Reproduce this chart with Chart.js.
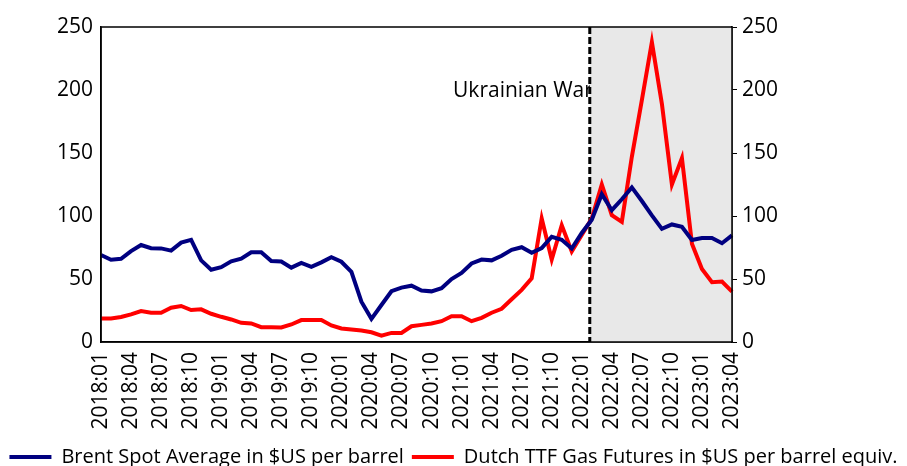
<!DOCTYPE html>
<html lang="en">
<head>
<meta charset="UTF-8">
<script src="https://cdn.jsdelivr.net/npm/chart.js"></script>
<meta name="viewport" content="width=device-width, initial-scale=1.0">
<title>Brent vs Dutch TTF</title>
<style>
html, body { margin: 0; padding: 0; background: #fff; overflow: hidden; }
#wrap { width: 907px; height: 466px; }
</style>
</head>
<body>
<div id="wrap"><canvas id="priceChart" width="907" height="466"></canvas></div>
<script>
// monthly categories 2018:01 .. 2023:04
var months = [];
for (var y = 2018; y <= 2023; y++) {
	for (var m = 1; m <= 12; m++) {
		if (y === 2023 && m > 4) break;
		months.push(y + ':' + (m < 10 ? '0' + m : m));
	}
}

var tickLabels = ['2018:01','2018:04','2018:07','2018:10','2019:01','2019:04','2019:07','2019:10',
	'2020:01','2020:04','2020:07','2020:10','2021:01','2021:04','2021:07','2021:10',
	'2022:01','2022:04','2022:07','2022:10','2023:01','2023:04'];

var brent = [69.1,65.3,66.0,72.1,77.0,74.4,74.3,72.5,78.9,81.0,64.8,57.4,
	59.4,64.0,66.1,71.2,71.3,64.2,63.9,59.0,62.8,59.7,63.2,67.3,
	63.7,55.7,32.0,18.4,29.4,40.3,43.2,44.7,40.9,40.2,42.7,50.0,
	54.8,62.3,65.4,64.8,68.5,73.2,75.2,70.8,74.5,83.5,81.1,74.2,
	86.5,97.1,117.3,104.6,113.3,122.7,111.9,100.5,89.8,93.3,91.4,80.9,
	82.5,82.6,78.4,84.6];

var ttf = [18.7,18.7,19.8,21.9,24.6,23.2,23.2,27.2,28.6,25.4,25.9,22.4,
	20.0,17.9,15.2,14.7,11.8,11.8,11.5,13.9,17.4,17.4,17.4,13.1,
	10.7,9.9,9.1,7.7,5.1,7.2,7.2,12.5,13.6,14.7,16.5,20.5,
	20.5,16.5,19.2,23.2,26.4,33.9,41.4,50.5,98.0,65.4,92.7,71.9,
	85.0,98.0,125.0,100.7,95.3,147.0,192.0,238.0,189.0,125.0,146.0,78.0,
	58.0,47.5,48.0,40.0];

var warStart = '2022:02';
var warLabel = 'Ukrainian War';

var FONT = '"Open Sans", "Noto Sans", sans-serif';

// shaded war period, dashed marker, label and frame
var warPlugin = {
	id: 'warPlugin',
	beforeDatasetsDraw: function(chart) {
		var ctx = chart.ctx;
		var a = chart.chartArea;
		var xs = chart.scales.x;
		var yl = chart.scales.y;
		var xw = xs.getPixelForValue(months.indexOf(warStart)) - 2;
		ctx.save();
		ctx.fillStyle = '#000';
		ctx.font = '21px ' + FONT;
		ctx.textAlign = 'right';
		ctx.textBaseline = 'middle';
		ctx.fillText(warLabel, xw + 3, yl.getPixelForValue(199));
		ctx.fillStyle = '#e8e8e8';
		ctx.fillRect(xw, a.top, a.right - xw, a.bottom - a.top);
		ctx.strokeStyle = '#000';
		ctx.lineWidth = 3;
		ctx.setLineDash([7, 3]);
		ctx.beginPath();
		ctx.moveTo(xw, a.top);
		ctx.lineTo(xw, a.bottom);
		ctx.stroke();
		ctx.restore();
	},
	afterDatasetsDraw: function(chart) {
		var ctx = chart.ctx;
		var a = chart.chartArea;
		ctx.save();
		ctx.strokeStyle = '#000';
		ctx.lineWidth = 1.5;
		ctx.strokeRect(a.left, a.top, a.right - a.left, a.bottom - a.top);
		ctx.restore();
	}
};

var ctx = document.getElementById('priceChart').getContext('2d');
var myChart = new Chart(ctx, {
	type: 'line',
	data: {
		labels: months,
		datasets: [{
			label: 'Brent Spot Average in $US per barrel',
			data: brent,
			borderColor: '#000080',
			backgroundColor: '#000080',
			borderWidth: 4,
			pointRadius: 0,
			tension: 0,
			fill: false
		}, {
			label: 'Dutch TTF Gas Futures in $US per barrel equiv.',
			data: ttf,
			borderColor: '#ff0000',
			backgroundColor: '#ff0000',
			borderWidth: 4,
			pointRadius: 0,
			tension: 0,
			fill: false
		}]
	},
	options: {
		responsive: false,
		animation: false,
		layout: { padding: { top: 27, left: 0, right: 0, bottom: -11 } },
		plugins: {
			tooltip: { enabled: false },
			legend: {
				position: 'bottom',
				labels: {
					color: '#000',
					font: { family: FONT, size: 20 },
					boxWidth: 42,
					boxHeight: 4,
					padding: 8,
					generateLabels: function(chart) {
						var items = Chart.defaults.plugins.legend.labels.generateLabels(chart);
						items.forEach(function(it) { it.lineWidth = 0; it.fillStyle = it.strokeStyle; });
						return items;
					}
				}
			}
		},
		scales: {
			x: {
				grid: { display: false, drawTicks: false },
				border: { display: true, color: '#000', width: 1.5 },
				ticks: {
					color: '#000',
					font: { family: FONT, size: 21 },
					autoSkip: false,
					maxRotation: 90,
					minRotation: 90,
					padding: 10,
					callback: function(v, i) {
						return tickLabels.indexOf(months[i]) >= 0 ? months[i] : '';
					}
				},
				afterFit: function(s) { s.height = 97; }
			},
			y: {
				position: 'left',
				min: 0, max: 250,
				grid: { display: false, drawTicks: false },
				border: { display: true, color: '#000', width: 1.5 },
				ticks: { stepSize: 50, color: '#000', font: { family: FONT, size: 21 }, padding: 8 },
				afterFit: function(s) { s.width = 101; }
			},
			y2: {
				position: 'right',
				min: 0, max: 250,
				grid: { drawOnChartArea: false, drawTicks: true, tickLength: 5, color: '#000' },
				border: { display: true, color: '#000', width: 1.5 },
				ticks: { stepSize: 50, color: '#000', font: { family: FONT, size: 21 }, padding: 5 },
				afterFit: function(s) { s.width = 175; }
			}
		}
	},
	plugins: [warPlugin]
});
</script>
</body>
</html>
